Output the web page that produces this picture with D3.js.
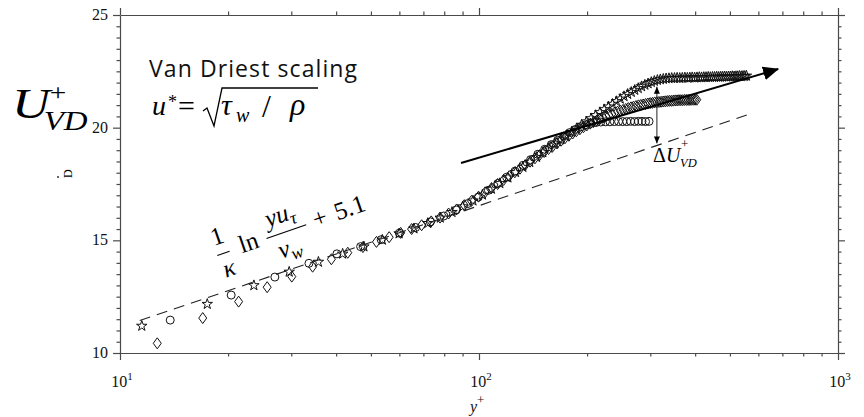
<!DOCTYPE html>
<meta charset="utf-8">
<style>
body { margin: 0; background: #fff; }
svg { display: block; }
.axis path, .axis line { stroke: #4a4a4a; stroke-width: 1.2px; }
.tick-label { font: 16px "Liberation Serif", serif; fill: #111; }
.mk { fill: none; stroke: #111; stroke-width: 1px; }
.math { font-family: "Liberation Serif", serif; fill: #000; }
.note { font-family: "Open Sans", sans-serif; fill: #111; }
</style>
<body>
<script src="https://cdn.jsdelivr.net/npm/d3@7"></script>
<script>

// --- data (y+ , U+_VD) ---
var starX = [
  11.5, 17.5, 23.6, 29.6, 35.7, 41.7, 47.8, 53.8, 59.9, 65.9,
  72.0, 78.0, 84.1, 90.1, 96.2, 102.2, 108.3, 114.3, 120.4, 126.4,
  132.5, 138.5, 144.6, 150.6, 156.7, 162.7, 168.8, 174.8, 180.9, 186.9,
  193.0, 199.0, 205.1, 211.1, 217.2, 223.2, 229.3, 235.3, 241.4, 247.4,
  253.5, 259.5, 265.6, 271.6, 277.7, 283.7, 289.8, 295.8, 301.9, 307.9,
  314.0, 320.0, 326.1, 332.1, 338.2, 344.2, 350.3, 356.3, 362.4, 368.4,
  374.5, 380.5, 386.6, 392.6, 398.7, 404.7, 410.8, 416.8, 422.9, 428.9,
  435.0, 441.0, 447.1, 453.1, 459.2, 465.2, 471.3, 477.3, 483.4, 489.4,
  495.5, 501.5, 507.6, 513.6, 519.7, 525.7, 531.8, 537.8, 543.9, 549.9,
  556.0];
var starU = [
  11.20, 12.17, 13.00, 13.60, 14.04, 14.40, 14.72, 15.02, 15.30, 15.52,
  15.76, 16.00, 16.25, 16.50, 16.76, 17.02, 17.28, 17.53, 17.78, 18.02,
  18.25, 18.47, 18.69, 18.90, 19.10, 19.29, 19.47, 19.64, 19.80, 19.96,
  20.12, 20.27, 20.41, 20.55, 20.68, 20.81, 20.93, 21.05, 21.17, 21.28,
  21.39, 21.49, 21.58, 21.67, 21.75, 21.83, 21.90, 21.96, 22.02, 22.07,
  22.11, 22.14, 22.16, 22.18, 22.19, 22.20, 22.20, 22.21, 22.20, 22.21,
  22.22, 22.21, 22.22, 22.23, 22.22, 22.23, 22.24, 22.23, 22.24, 22.24,
  22.25, 22.24, 22.25, 22.25, 22.26, 22.25, 22.26, 22.26, 22.27, 22.26,
  22.27, 22.27, 22.28, 22.27, 22.28, 22.28, 22.29, 22.28, 22.29, 22.29,
  22.30];

var circX = [
  13.8, 20.4, 27.0, 33.6, 40.2, 46.8, 53.4, 60.0, 66.6, 73.2,
  79.8, 86.4, 93.0, 99.6, 106.2, 112.8, 119.4, 126.0, 132.6, 139.2,
  145.8, 152.4, 159.0, 165.6, 172.2, 178.8, 185.4, 192.0, 198.6, 205.2,
  211.8, 218.4, 225.0, 231.6, 238.2, 244.8, 251.4, 258.0, 264.6, 271.2,
  277.8, 284.4, 291.0, 297.6];
var circU = [
  11.46, 12.57, 13.37, 13.98, 14.40, 14.72, 15.03, 15.32, 15.57, 15.82,
  16.08, 16.35, 16.63, 16.92, 17.22, 17.52, 17.80, 18.07, 18.33, 18.58,
  18.82, 19.04, 19.25, 19.44, 19.62, 19.78, 19.92, 20.04, 20.13, 20.19,
  20.23, 20.25, 20.26, 20.26, 20.27, 20.27, 20.27, 20.27, 20.28, 20.27,
  20.28, 20.28, 20.27, 20.28];

var diamX = [
  12.7, 17.0, 21.4, 25.7, 30.1, 34.4, 38.8, 43.1, 47.5, 51.8,
  56.2, 60.5, 64.9, 69.2, 73.6, 77.9, 82.3, 86.6, 91.0, 95.3,
  99.7, 104.0, 108.4, 112.7, 117.1, 121.4, 125.8, 130.1, 134.5, 138.8,
  143.2, 147.5, 151.9, 156.2, 160.6, 164.9, 169.3, 173.6, 178.0, 182.3,
  186.7, 191.0, 195.4, 199.7, 204.1, 208.4, 212.8, 217.1, 221.5, 225.8,
  230.2, 234.5, 238.9, 243.2, 247.6, 251.9, 256.3, 260.6, 265.0, 269.3,
  273.7, 278.0, 282.4, 286.7, 291.1, 295.4, 299.8, 304.1, 308.5, 312.8,
  317.2, 321.5, 325.9, 330.2, 334.6, 338.9, 343.3, 347.6, 352.0, 356.3,
  360.7, 365.0, 369.4, 373.7, 378.1, 382.4, 386.8, 391.1, 395.5, 399.8,
  404.2];
var diamU = [
  10.43, 11.55, 12.28, 12.92, 13.39, 13.83, 14.16, 14.45, 14.70, 14.93,
  15.14, 15.33, 15.50, 15.67, 15.84, 16.01, 16.19, 16.37, 16.56, 16.75,
  16.94, 17.13, 17.32, 17.50, 17.68, 17.85, 18.02, 18.18, 18.34, 18.49,
  18.64, 18.78, 18.92, 19.05, 19.18, 19.30, 19.42, 19.53, 19.64, 19.74,
  19.84, 19.93, 20.02, 20.10, 20.18, 20.25, 20.32, 20.39, 20.45, 20.51,
  20.56, 20.61, 20.66, 20.71, 20.75, 20.79, 20.83, 20.87, 20.90, 20.93,
  20.96, 20.99, 21.01, 21.03, 21.05, 21.07, 21.09, 21.10, 21.12, 21.13,
  21.14, 21.15, 21.16, 21.17, 21.18, 21.19, 21.19, 21.20, 21.21, 21.21,
  21.22, 21.22, 21.22, 21.23, 21.23, 21.23, 21.23, 21.24, 21.24, 21.24,
  21.24];

// log law (dashed), trend arrow, and the delta-U arrow
var lawX = [11.35, 557], lawU = [11.44, 20.56];
var trendX = [89.1, 681], trendU = [18.43, 22.6];
var deltaX = [313, 313], deltaU = [19.3, 21.82];

// ticks
var xMajor = [10, 100, 1000], xExp = ["1", "2", "3"];
var xMinor = [20, 30, 40, 50, 60, 70, 80, 90, 200, 300, 400, 500, 600, 700, 800, 900];
var yMajor = [10, 15, 20, 25], yLabels = ["10", "15", "20", "25"];
var yMinor = d3.range(10, 25.001, 0.5).filter(function(v) { return v % 5 !== 0; });

var width = 864,
    height = 417;

var x = d3.scaleLog().domain([10, 1000]).range([120, 838]);
var y = d3.scaleLinear().domain([10, 25]).range([353, 15]);

var svg = d3.select("body").append("svg")
    .attr("width", width)
    .attr("height", height);

var defs = svg.append("defs");
defs.append("marker").attr("id", "bighead")
    .attr("viewBox", "0 -7 16 14").attr("refX", 15).attr("refY", 0)
    .attr("markerWidth", 16).attr("markerHeight", 14)
    .attr("markerUnits", "userSpaceOnUse").attr("orient", "auto")
  .append("path").attr("d", "M0,-7L16,0L0,7Z").attr("fill", "#000");
defs.append("marker").attr("id", "smallhead")
    .attr("viewBox", "0 -3 7 6").attr("refX", 7).attr("refY", 0)
    .attr("markerWidth", 7).attr("markerHeight", 6)
    .attr("markerUnits", "userSpaceOnUse").attr("orient", "auto-start-reverse")
  .append("path").attr("d", "M0,-3L7,0L0,3Z").attr("fill", "#000");

// axes: minor and major ticks on all four sides, pointing out
function axis(gen, tx, ty, vals, len, keepDomain) {
  var g = svg.append("g").attr("class", "axis")
      .attr("transform", "translate(" + tx + "," + ty + ")")
      .call(gen.tickValues(vals).tickSize(len).tickSizeOuter(0).tickFormat(""));
  if (!keepDomain) g.select(".domain").remove();
}
axis(d3.axisBottom(x), 0, 353, xMinor, 3.5, true);
axis(d3.axisBottom(x), 0, 353, xMajor, 7);
axis(d3.axisTop(x), 0, 15, xMinor, 3.5, true);
axis(d3.axisTop(x), 0, 15, xMajor, 7);
axis(d3.axisLeft(y), 120, 0, yMinor, 3.5, true);
axis(d3.axisLeft(y), 120, 0, yMajor, 7);
axis(d3.axisRight(y), 838, 0, yMinor, 3.5, true);
axis(d3.axisRight(y), 838, 0, yMajor, 7);

// tick labels
yMajor.forEach(function(v, i) {
  svg.append("text").attr("class", "tick-label")
      .attr("x", 108).attr("y", y(v) + 5)
      .attr("text-anchor", "end").text(yLabels[i]);
});
xMajor.forEach(function(v, i) {
  var t = svg.append("text").attr("class", "tick-label")
      .attr("x", x(v) + 2).attr("y", 387).attr("text-anchor", "middle");
  t.append("tspan").text("10");
  t.append("tspan").attr("dy", -7).attr("font-size", 11).text(xExp[i]);
});
var yl = svg.append("text").attr("class", "tick-label")
    .attr("x", 470).attr("y", 412).attr("font-size", 18);
yl.append("tspan").attr("font-style", "italic").text("y");
yl.append("tspan").attr("dy", -8).attr("font-size", 13).text("+");

// markers
var diamond = "M0,-5.5L4,0L0,5.5L-4,0Z";
var star = d3.symbol(d3.symbolStar, 34);

svg.append("g").selectAll("circle")
    .data(d3.zip(circX, circU))
  .enter().append("circle")
    .attr("class", "mk")
    .attr("cx", function(d) { return x(d[0]); })
    .attr("cy", function(d) { return y(d[1]); })
    .attr("r", 4);

svg.append("g").selectAll("path")
    .data(d3.zip(diamX, diamU))
  .enter().append("path")
    .attr("class", "mk")
    .attr("d", diamond)
    .attr("transform", function(d) { return "translate(" + x(d[0]) + "," + y(d[1]) + ")"; });

svg.append("g").selectAll("path")
    .data(d3.zip(starX, starU))
  .enter().append("path")
    .attr("class", "mk")
    .attr("d", star)
    .attr("transform", function(d) { return "translate(" + x(d[0]) + "," + y(d[1]) + ")"; });

// lines
var line = d3.line()
    .x(function(d) { return x(d[0]); })
    .y(function(d) { return y(d[1]); });

svg.append("path").datum(d3.zip(lawX, lawU))
    .attr("d", line).attr("fill", "none")
    .attr("stroke", "#222").attr("stroke-width", 1.1)
    .attr("stroke-dasharray", "11,7");

svg.append("path").datum(d3.zip(trendX, trendU))
    .attr("d", line).attr("fill", "none")
    .attr("stroke", "#000").attr("stroke-width", 2)
    .attr("marker-end", "url(#bighead)");

svg.append("path").datum(d3.zip(deltaX, deltaU))
    .attr("d", line).attr("fill", "none")
    .attr("stroke", "#222").attr("stroke-width", 1)
    .attr("marker-start", "url(#smallhead)")
    .attr("marker-end", "url(#smallhead)");

// text helpers
function put(g, str, px, py, size, italic, anchor) {
  return g.append("text").attr("class", "math")
      .attr("x", px).attr("y", py)
      .attr("font-size", size)
      .attr("font-style", italic ? "italic" : null)
      .attr("text-anchor", anchor || "start")
      .text(str);
}
function bar(g, x1, x2, yy) {
  g.append("line").attr("x1", x1).attr("x2", x2).attr("y1", yy).attr("y2", yy)
      .attr("stroke", "#000").attr("stroke-width", 1.1);
}

// delta U label, one text with sub/superscripts
var dl = svg.append("text").attr("class", "math").attr("x", 653).attr("y", 162).attr("font-size", 20);
dl.append("tspan").text("\u0394");
dl.append("tspan").attr("font-style", "italic").text("U");
dl.append("tspan").attr("x", 681).attr("y", 148).attr("font-size", 13).text("+");
dl.append("tspan").attr("x", 680).attr("y", 167).attr("font-size", 12.5).attr("font-style", "italic").text("VD");

// rotated log-law formula
var f = svg.append("g").attr("transform", "translate(223,253.5) rotate(-19)");
put(f, "1", 0, -10, 25, false, "middle");
bar(f, -6, 7, 0);
put(f, "\u03ba", 1, 24, 25, true, "middle");
put(f, "ln", 18, 6, 25, false);
var num = f.append("text").attr("class", "math").attr("x", 66).attr("y", -10)
    .attr("font-size", 25).attr("font-style", "italic").attr("text-anchor", "middle");
num.append("tspan").text("yu");
num.append("tspan").attr("dy", 5).attr("font-size", 18).text("\u03c4");
bar(f, 46, 88, 0);
var den = f.append("text").attr("class", "math").attr("x", 65).attr("y", 24)
    .attr("font-size", 25).attr("font-style", "italic").attr("text-anchor", "middle");
den.append("tspan").text("\u03bd");
den.append("tspan").attr("dy", 5).attr("font-size", 18).text("w");
put(f, "+", 103, 6, 25, false, "middle");
put(f, "5.1", 119, 6, 25, false);

// Van Driest caption
svg.append("text").attr("class", "note")
    .attr("x", 149).attr("y", 77)
    .attr("font-size", 23)
    .attr("textLength", 208)
    .text("Van Driest scaling");

// u* = sqrt(tau_w / rho)
var ue = svg.append("text").attr("class", "math").attr("x", 152).attr("y", 115).attr("font-size", 28);
ue.append("tspan").attr("font-style", "italic").text("u");
ue.append("tspan").attr("x", 168).attr("y", 108).attr("font-size", 18).text("*");
ue.append("tspan").attr("x", 178).attr("y", 116).attr("font-size", 30).text("=");
svg.append("path").attr("d", "M203,111L207,108L214,126L222,88L318,88")
    .attr("fill", "none").attr("stroke", "#000").attr("stroke-width", 1.3);
var rt = svg.append("text").attr("class", "math").attr("x", 221).attr("y", 115)
    .attr("font-size", 30).attr("font-style", "italic");
rt.append("tspan").text("\u03c4");
rt.append("tspan").attr("x", 236).attr("y", 122).attr("font-size", 20).text("w");
rt.append("tspan").attr("x", 262).attr("y", 117).attr("font-size", 32).attr("font-style", "normal").text("/");
rt.append("tspan").attr("x", 290).attr("y", 115).attr("font-size", 32).text("\u03c1");

// big axis title U+_VD (local units are stretched 1.22x horizontally)
var ut = svg.append("text").attr("class", "math")
    .attr("transform", "translate(12,118) scale(1.22,1)")
    .attr("font-size", 43).attr("font-style", "italic");
ut.append("tspan").text("U");
ut.append("tspan").attr("x", 31).attr("y", -18).attr("font-size", 24).attr("font-style", "normal").text("+");
ut.append("tspan").attr("x", 26).attr("y", 12).attr("font-size", 27).text("VD");

// leftover fragment of the original rotated y label
svg.append("text").attr("class", "math")
    .attr("transform", "translate(72,178) rotate(-90)")
    .attr("font-size", 12).text("D");
svg.append("circle").attr("cx", 58).attr("cy", 177).attr("r", 1).attr("fill", "#333");

</script>
</body>
</html>
